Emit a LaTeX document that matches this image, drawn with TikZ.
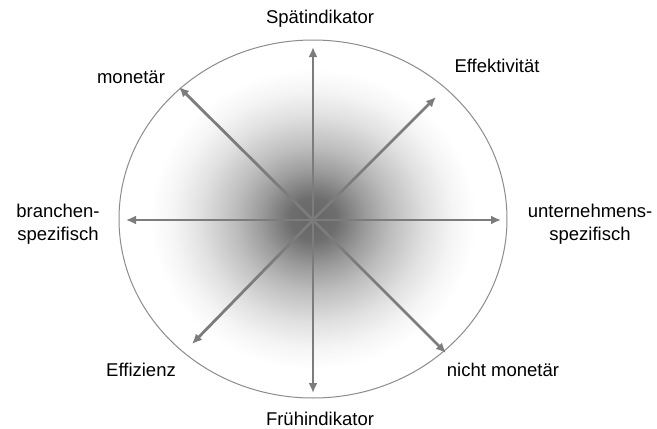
\documentclass[tikz,border=0pt]{standalone}
\usepackage{fontspec}
\setmainfont{Liberation Sans}
\usetikzlibrary{arrows.meta}
\definecolor{rimgray}{HTML}{8C8C8C}
\definecolor{arrowgray}{HTML}{7C7C7C}
\pgfdeclareradialshading{glow}{\pgfpoint{0bp}{0bp}}{%
  color(0bp)=(black!60);
  color(3bp)=(black!57);
  color(6.75bp)=(black!39);
  color(10bp)=(black!26);
  color(14.5bp)=(black!12);
  color(18bp)=(black!4);
  color(21bp)=(white);
  color(25bp)=(white);
  color(50bp)=(white)}
\tikzset{
  lbl/.style={font=\fontsize{18.5}{23}\selectfont, inner sep=0pt, align=center},
  axis/.style={draw=arrowgray, line width=2.8pt, -{Latex[length=10pt,width=9pt]}},
}
\begin{document}
\begin{tikzpicture}[x=1pt,y=-1pt]
\useasboundingbox (0,0) rectangle (657,429);
\fill[white] (0,0) rectangle (657,429);
\path[shading=glow] (313,219) ellipse [x radius=194pt, y radius=179pt];
\draw[rimgray, line width=1pt] (313,219) ellipse [x radius=194pt, y radius=179pt];
\coordinate (c) at (313,220);
\coordinate (tN) at (313,47);
\coordinate (tS) at (313,393);
\coordinate (tW) at (126,220);
\coordinate (tE) at (501,220);
\coordinate (tNW) at (179,87);
\coordinate (tNE) at (436,97);
\coordinate (tSW) at (192,344);
\coordinate (tSE) at (446,353);
\foreach \t in {tN,tS,tW,tE,tNW,tNE,tSW,tSE}{\draw[axis] (c) -- (\t);}
\node[lbl] (spaet) at (320,19) {Spätindikator};
\node[lbl] (frueh) at (320,419) {Frühindikator};
\node[lbl] (effekt) at (497,66) {Effektivität};
\node[lbl] (monetaer) at (131,77) {monetär};
\node[lbl] (effiz) at (141,370) {Effizienz};
\node[lbl] (nichtmon) at (503,370) {nicht monetär};
\node[lbl] (branche) at (58,224) {branchen-\\spezifisch};
\node[lbl] (unternehmen) at (590,224) {unternehmens-\\spezifisch};
\end{tikzpicture}
\end{document}
